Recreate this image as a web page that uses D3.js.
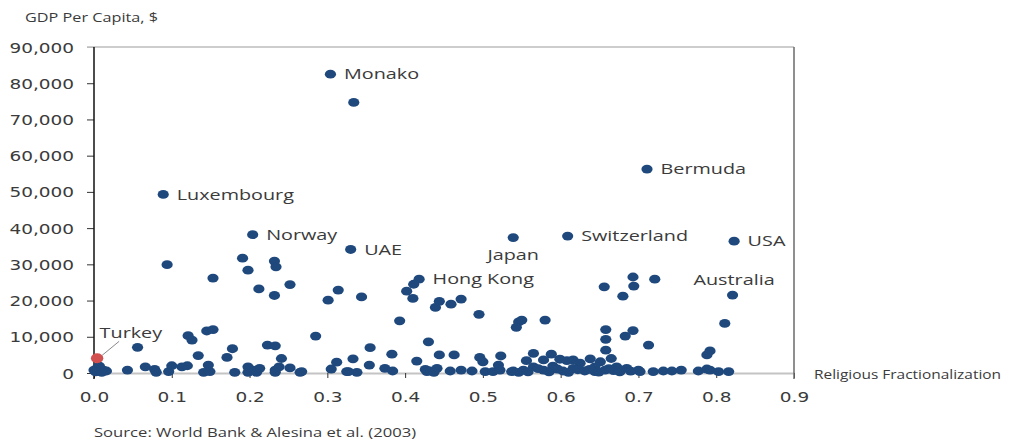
<!DOCTYPE html>
<html>
<head>
<meta charset="utf-8">
<script src="https://cdn.jsdelivr.net/npm/d3@7"></script>
<style>
  html, body { margin: 0; padding: 0; background: #ffffff; }
  svg { display: block; }
</style>
</head>
<body>
<svg id="chart" width="1020" height="444"></svg>
<script>
// ---------------- DATA ----------------
const xTicks = [0, 0.1, 0.2, 0.3, 0.4, 0.5, 0.6, 0.7, 0.8, 0.9];
const yTicks = [0, 10000, 20000, 30000, 40000, 50000, 60000, 70000, 80000, 90000];

const yAxisTitle = "GDP Per Capita, $";
const xAxisTitle = "Religious Fractionalization";
const sourceNote = "Source: World Bank & Alesina et al. (2003)";

// labelled countries
const labelNames = ["Monako", "Luxembourg", "Bermuda", "Norway", "UAE", "Japan", "Switzerland", "USA", "Australia", "Hong Kong", "Turkey"];
const labelFrac  = [0.304, 0.089, 0.711, 0.204, 0.330, 0.539, 0.609, 0.823, 0.821, 0.418, 0.004];
const labelGdp   = [82500, 49300, 56300, 38200, 34100, 37400, 37800, 36400, 21500, 25900, 4050];

// unlabelled countries
const otherFrac = [
  0.334, 0.094, 0.191, 0.198, 0.232, 0.234, 0.153, 0.212, 0.232, 0.252, 0.301, 0.314, 0.344,
  0.056, 0.121, 0.126, 0.145, 0.153, 0.134, 0.171, 0.178, 0.223, 0.233, 0.241, 0.285, 0.333, 0.312, 0.305,
  0.000, 0.005, 0.012, 0.016, 0.007, 0.002, 0.010, 0.043, 0.066, 0.078, 0.080, 0.096, 0.100, 0.113, 0.120,
  0.141, 0.147, 0.149, 0.181, 0.198, 0.205, 0.213, 0.198, 0.209, 0.233, 0.238, 0.252, 0.265, 0.233, 0.325, 0.338,
  0.402, 0.410, 0.411, 0.444, 0.439, 0.459, 0.472, 0.495, 0.546, 0.550, 0.543, 0.580, 0.656, 0.680,
  0.393, 0.355, 0.430, 0.383, 0.354, 0.415, 0.444, 0.463, 0.496, 0.500, 0.523, 0.565, 0.556, 0.588, 0.578,
  0.658, 0.658, 0.658, 0.520, 0.267, 0.327, 0.374, 0.384, 0.426, 0.428, 0.441, 0.458, 0.472, 0.486, 0.503,
  0.513, 0.522, 0.537, 0.546, 0.683, 0.693, 0.713, 0.811, 0.792, 0.788, 0.665, 0.599, 0.608, 0.616, 0.625,
  0.638, 0.651, 0.672, 0.644, 0.539, 0.552, 0.565, 0.578, 0.590, 0.603, 0.616, 0.631, 0.644, 0.657, 0.668,
  0.685, 0.700, 0.702, 0.719, 0.732, 0.743, 0.755, 0.777, 0.788, 0.792, 0.803, 0.816, 0.693, 0.694, 0.721,
  0.558, 0.571, 0.585, 0.596, 0.610, 0.622, 0.637, 0.649, 0.662, 0.676, 0.690, 0.432, 0.437
];
const otherGdp = [
  74700, 29900, 31700, 28400, 30900, 29300, 26200, 23200, 21400, 24400, 20100, 22900, 21000,
  7100, 10300, 9100, 11600, 12000, 4800, 4300, 6700, 7700, 7500, 4000, 10200, 3900, 3000, 1100,
  800, 1600, 800, 550, 1900, 300, 200, 800, 1700, 1000, 200, 400, 2000, 1700, 2000,
  200, 2200, 400, 200, 1700, 800, 1300, 200, 200, 800, 1700, 1400, 200, 200, 400, 200,
  22600, 20600, 24500, 19800, 18100, 19000, 20400, 16200, 14100, 14600, 12600, 14600, 23800, 21200,
  14400, 7000, 8600, 5200, 2200, 3300, 5000, 5000, 4300, 3100, 4700, 5400, 3400, 5200, 3600,
  12000, 9300, 6300, 2200, 400, 400, 1300, 550, 1000, 400, 1300, 550, 800, 550, 400,
  400, 800, 400, 200, 10200, 11700, 7700, 13700, 6100, 5000, 4000, 3800, 3400, 3600, 2700,
  3900, 3100, 1700, 1700, 550, 800, 1700, 800, 1900, 550, 1300, 550, 400, 800, 650,
  1300, 800, 400, 400, 550, 550, 800, 550, 1100, 800, 400, 400, 26500, 24000, 25900,
  300, 1200, 300, 1100, 200, 900, 1000, 250, 1200, 300, 500, 600, 200
];

// ---------------- DRAWING ----------------
const SX = 1.32;            // horizontal stretch of the reference typography
const svg = d3.select("#chart");
const x = d3.scaleLinear().domain([0, 0.9]).range([94, 794]);
const y = d3.scaleLinear().domain([0, 90000]).range([373, 47]);

const textColor = "#3b3b3b";
const dotColor = "#1F497D";
const turkeyColor = "#D24F4F";

function stretchedText(g, tx, ty, str, opts) {
  return g.append("text")
    .attr("transform", `translate(${tx},${ty}) scale(${SX},1)`)
    .attr("text-anchor", opts.anchor || "start")
    .attr("font-family", opts.family || "'Open Sans', sans-serif")
    .attr("font-size", opts.size || 15)
    .attr("fill", opts.fill || textColor)
    .text(str);
}

// top gridline (90,000)
svg.append("line")
  .attr("x1", x(0) - 7).attr("x2", x(0.9))
  .attr("y1", y(90000)).attr("y2", y(90000))
  .attr("stroke", "#bdbdbd").attr("stroke-width", 1.5);

// x axis
const xAxisG = svg.append("g")
  .attr("transform", `translate(0,${y(0)})`)
  .call(d3.axisBottom(x).tickValues(xTicks).tickSize(5).tickSizeOuter(0).tickFormat(d3.format(".1f")));
xAxisG.select(".domain").attr("stroke", "#c4c4c4").attr("stroke-width", 2);
xAxisG.selectAll(".tick line").attr("stroke", "#333").attr("stroke-width", 1);
xAxisG.selectAll(".tick text")
  .attr("x", 0).attr("y", 0).attr("dy", 0)
  .attr("transform", `translate(0,29) scale(${SX},1)`)
  .attr("font-family", "'DejaVu Sans', Verdana, sans-serif")
  .attr("font-size", 14)
  .attr("fill", textColor);

// right border at 0.9
svg.append("line")
  .attr("x1", x(0.9)).attr("x2", x(0.9))
  .attr("y1", y(90000)).attr("y2", y(0) + 6)
  .attr("stroke", "#6a6a6a").attr("stroke-width", 1.5);

// y axis
const yAxisG = svg.append("g")
  .attr("transform", `translate(${x(0)},0)`)
  .call(d3.axisLeft(y).tickValues(yTicks).tickSize(7).tickSizeOuter(0).tickFormat(d3.format(",")));
yAxisG.select(".domain").remove();
yAxisG.selectAll(".tick line").attr("stroke", "#333").attr("stroke-width", 1);
yAxisG.selectAll(".tick").filter(d => d === 90000).select("line").attr("stroke", "#bdbdbd");
yAxisG.selectAll(".tick text")
  .attr("x", 0).attr("dy", "0.36em")
  .attr("transform", `translate(-20,0) scale(${SX},1)`)
  .attr("font-family", "'DejaVu Sans', Verdana, sans-serif")
  .attr("font-size", 14)
  .attr("fill", textColor);
svg.append("line")
  .attr("x1", x(0)).attr("x2", x(0))
  .attr("y1", y(90000)).attr("y2", y(0) + 6)
  .attr("stroke", "#111").attr("stroke-width", 1.5);

// titles
stretchedText(svg, 25, 21.5, yAxisTitle, { size: 12.3 });
stretchedText(svg, 814, 379, xAxisTitle, { size: 11.7 });
stretchedText(svg, 94, 437, sourceNote, { size: 12.6 });

// points
const others = otherFrac.map((f, i) => ({ f, g: otherGdp[i] }));
const labelled = labelNames.map((n, i) => ({ name: n, f: labelFrac[i], g: labelGdp[i] }));

const dots = svg.append("g");
dots.selectAll("ellipse.o").data(others).join("ellipse")
  .attr("class", "o")
  .attr("cx", d => x(d.f)).attr("cy", d => y(d.g))
  .attr("rx", 5.6).attr("ry", 4.4)
  .attr("fill", dotColor);

dots.selectAll("ellipse.l").data(labelled).join("ellipse")
  .attr("class", "l")
  .attr("cx", d => x(d.f)).attr("cy", d => y(d.g))
  .attr("rx", d => d.name === "Turkey" ? 6.2 : 5.6)
  .attr("ry", d => d.name === "Turkey" ? 5 : 4.4)
  .attr("fill", d => d.name === "Turkey" ? turkeyColor : dotColor);

// labels
const placement = { Japan: "below", Australia: "above", Turkey: "leader" };
const labG = svg.append("g");
labelled.forEach(d => {
  const cx = x(d.f), cy = y(d.g);
  const p = placement[d.name] || "right";
  if (p === "right") {
    stretchedText(labG, cx + 13.5, cy + 5.3, d.name, { size: 15 });
  } else if (p === "below") {
    stretchedText(labG, cx, cy + 22, d.name, { size: 15, anchor: "middle" });
  } else if (p === "above") {
    stretchedText(labG, cx + 1.5, cy - 10.5, d.name, { size: 15, anchor: "middle" });
  } else {
    labG.append("line")
      .attr("x1", cx + 5).attr("y1", cy - 3)
      .attr("x2", cx + 22).attr("y2", cy - 17)
      .attr("stroke", "#8a8a8a").attr("stroke-width", 1);
    stretchedText(labG, cx + 2.5, cy - 20.5, d.name, { size: 15 });
  }
});
</script>
</body>
</html>
